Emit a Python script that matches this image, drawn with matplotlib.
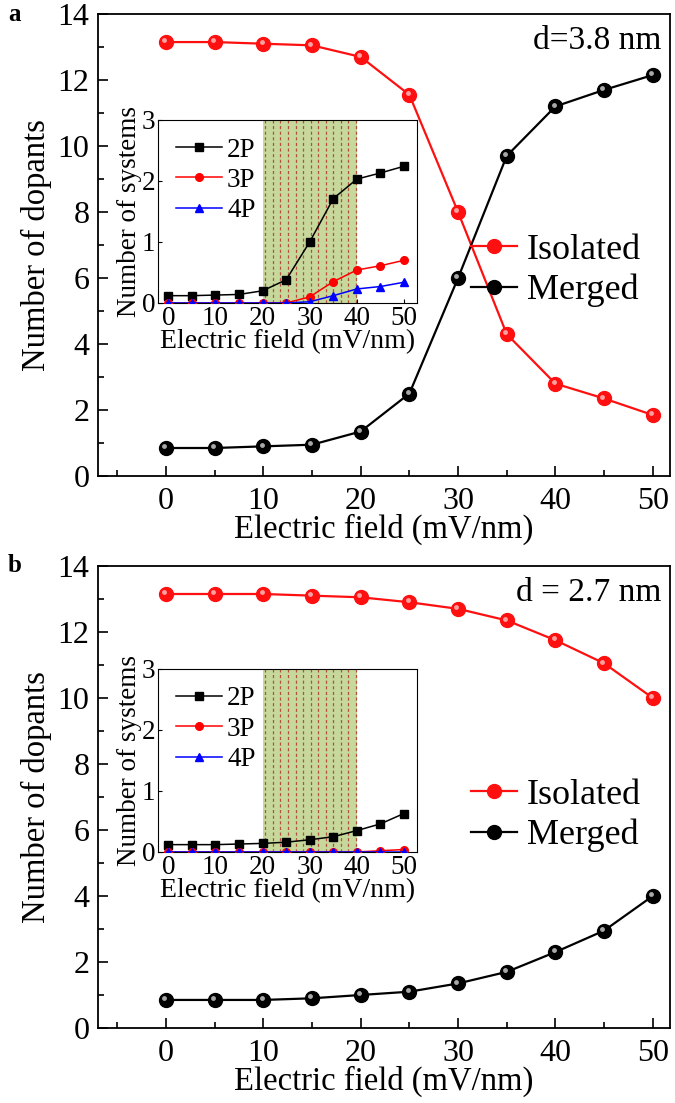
import numpy as np
import matplotlib
matplotlib.use("Agg")
import matplotlib.pyplot as plt
import matplotlib.transforms as mtransforms
from matplotlib.ticker import MultipleLocator

plt.rcParams["font.family"] = ["Liberation Serif", "DejaVu Serif"]

# ---- data ----
field = [0, 5, 10, 15, 20, 25, 30, 35, 40, 45, 50]

# panel a, d = 3.8 nm
iso_a = [13.15, 13.15, 13.1, 13.05, 12.7, 11.55, 8.0, 4.3, 2.8, 2.35, 1.85]
mrg_a = [0.85, 0.85, 0.9, 0.95, 1.35, 2.5, 6.0, 9.7, 11.2, 11.7, 12.15]
p2_a = [0.12, 0.12, 0.13, 0.14, 0.2, 0.38, 1.0, 1.71, 2.03, 2.13, 2.24]
p3_a = [0.0, 0.0, 0.0, 0.0, 0.0, 0.0, 0.1, 0.35, 0.54, 0.61, 0.7]
p4_a = [0.0, 0.0, 0.0, 0.0, 0.0, 0.0, 0.02, 0.12, 0.23, 0.27, 0.34]

# panel b, d = 2.7 nm
iso_b = [13.15, 13.15, 13.15, 13.1, 13.05, 12.9, 12.7, 12.35, 11.75, 11.05, 10.0]
mrg_b = [0.85, 0.85, 0.85, 0.9, 1.0, 1.1, 1.35, 1.7, 2.3, 2.95, 4.0]
p2_b = [0.12, 0.12, 0.12, 0.13, 0.14, 0.16, 0.2, 0.25, 0.35, 0.46, 0.63]
p3_b = [0.0, 0.0, 0.0, 0.0, 0.0, 0.0, 0.0, 0.0, 0.0, 0.02, 0.04]
p4_b = [0.0, 0.0, 0.0, 0.0, 0.0, 0.0, 0.0, 0.0, 0.0, 0.0, 0.0]

shade_span = (20, 40)
panel_titles = ["d=3.8 nm", "d = 2.7 nm"]
panel_letters = ["a", "b"]

FS_TICK = 23
FS_LAB = 23.5
FS_LEG = 26
FS_IN = 19.5


def ball_line(ax, x, y, color, light, label):
    # ball markers with a small highlight shifted up-left
    ax.plot(x, y, "-", color=color, lw=1.6, marker="o", ms=10,
            mfc=color, mec=color, label=label, zorder=3)
    shift = mtransforms.offset_copy(ax.transData, fig=ax.figure, x=-1.3, y=1.3, units="points")
    ax.plot(x, y, "none", marker="o", ms=3.5, mfc=light, mec="none", zorder=4,
            transform=shift)


def style_main(ax):
    ax.set_xlim(-7, 51.8)
    ax.set_ylim(0, 14)
    ax.xaxis.set_major_locator(MultipleLocator(10))
    ax.xaxis.set_minor_locator(MultipleLocator(5))
    ax.yaxis.set_major_locator(MultipleLocator(2))
    ax.yaxis.set_minor_locator(MultipleLocator(1))
    ax.tick_params(which="both", direction="in", labelsize=FS_TICK, width=1.2)
    ax.tick_params(which="major", length=7)
    ax.tick_params(which="minor", length=4)
    ax.tick_params(axis="x", pad=8)
    ax.tick_params(axis="y", pad=6)
    for s in ax.spines.values():
        s.set_linewidth(1.3)
    ax.set_xlabel("Electric field (mV/nm)", fontsize=FS_LAB, labelpad=-2)
    ax.set_ylabel("Number of dopants", fontsize=FS_LAB, labelpad=4)


def draw_inset(ax, p2, p3, p4):
    ax.axvspan(*shade_span, color="#c6d89b", lw=0, zorder=0)
    for xv in np.arange(shade_span[0] + 0.6, shade_span[1], 1.6):
        ax.axvline(xv, color="#b5503f", lw=0.9, ls=(0, (2.5, 2)), zorder=1)
    ax.plot(field, p2, "-s", color="black", ms=5.5, lw=1.1, label="2P", zorder=3)
    ax.plot(field, p3, "-o", color="red", ms=5.5, lw=1.1, label="3P", zorder=3)
    ax.plot(field, p4, "-^", color="blue", ms=5.5, lw=1.1, label="4P", zorder=3)
    ax.set_xlim(-2.2, 52.8)
    ax.set_ylim(0, 3)
    ax.xaxis.set_major_locator(MultipleLocator(10))
    ax.yaxis.set_major_locator(MultipleLocator(1))
    ax.tick_params(which="both", direction="in", labelsize=FS_IN, length=3, pad=2)
    ax.set_xlabel("Electric field (mV/nm)", fontsize=FS_IN + 0.5, labelpad=-1)
    ax.set_ylabel("Number of systems", fontsize=FS_IN, labelpad=0)
    ax.legend(loc="upper left", frameon=False, fontsize=FS_IN, handlelength=1.7,
              handletextpad=0.2, labelspacing=0.2, borderaxespad=0.25)


fig = plt.figure(figsize=(6.75, 11.03), dpi=100)

main_pos = [[0.145, 0.5684, 0.848, 0.4189], [0.145, 0.068, 0.848, 0.4189]]
inset_pos = [[0.234, 0.7253, 0.384, 0.166], [0.234, 0.2276, 0.384, 0.166]]
legend_y = [0.445, 0.46]
series = [(iso_a, mrg_a, p2_a, p3_a, p4_a), (iso_b, mrg_b, p2_b, p3_b, p4_b)]

for i in range(2):
    iso, mrg, p2, p3, p4 = series[i]
    ax = fig.add_axes(main_pos[i])
    ball_line(ax, field, iso, "#ff1010", "#ffa0a0", "Isolated")
    ball_line(ax, field, mrg, "black", "#a8a8a8", "Merged")
    style_main(ax)
    ax.text(0.985, 0.975, panel_titles[i], transform=ax.transAxes, ha="right",
            va="top", fontsize=24)
    ax.legend(loc="center right", bbox_to_anchor=(1.005, legend_y[i]), frameon=False,
              fontsize=FS_LEG, handlelength=1.3, handletextpad=0.25, labelspacing=0.2)
    fig.text(0.012, main_pos[i][1] + main_pos[i][3], panel_letters[i],
             fontsize=18, fontweight="bold", va="center")

    axi = fig.add_axes(inset_pos[i])
    draw_inset(axi, p2, p3, p4)

fig.savefig("out.png", dpi=100)
